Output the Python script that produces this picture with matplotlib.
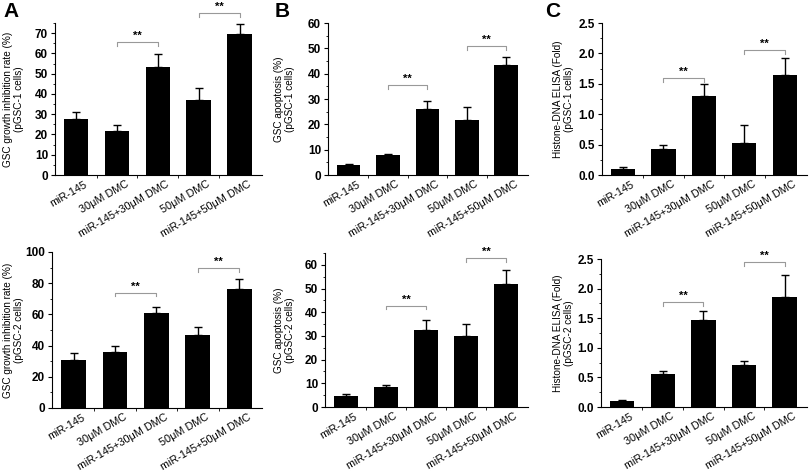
import numpy as np
import matplotlib.pyplot as plt
from matplotlib.ticker import MultipleLocator

plt.rcParams['font.family'] = ['Liberation Sans', 'DejaVu Sans']

groups = ['miR-145', '30μM DMC', 'miR-145+30μM DMC', '50μM DMC', 'miR-145+50μM DMC']

# panel A
a1_mean = [27.5, 21.8, 53.5, 36.8, 69.5]
a1_err = [3.5, 3.0, 6.0, 6.0, 5.0]
a2_mean = [31.0, 36.0, 61.0, 47.0, 76.5]
a2_err = [4.5, 3.5, 3.5, 5.0, 6.0]
# panel B
b1_mean = [3.8, 7.8, 26.2, 21.8, 43.5]
b1_err = [0.5, 0.6, 3.0, 5.0, 3.0]
b2_mean = [4.8, 8.4, 32.3, 29.8, 51.8]
b2_err = [0.6, 0.8, 4.5, 5.3, 6.0]
# panel C
c1_mean = [0.10, 0.43, 1.30, 0.53, 1.64]
c1_err = [0.03, 0.07, 0.20, 0.30, 0.29]
c2_mean = [0.10, 0.55, 1.47, 0.71, 1.86]
c2_err = [0.02, 0.06, 0.16, 0.06, 0.37]

W, H = 810, 476
fig = plt.figure(figsize=(W / 100, H / 100), dpi=100)


def px_axes(l, r, t, b):
    return fig.add_axes([l / W, 1 - b / H, (r - l) / W, (b - t) / H])


def panel(box, mean, err, ymax, major, minor, ylabel, br, fmt=None, ylx=None):
    ax = px_axes(*box)
    x = np.arange(len(groups))
    ax.bar(x, mean, width=0.6, color='black')
    ax.errorbar(x, mean, yerr=[np.zeros(len(err)), err], fmt='none',
                ecolor='black', elinewidth=1, capsize=3, capthick=1)
    ax.set_xlim(-0.52, 4.55)
    ax.set_ylim(0, ymax)
    ax.spines['top'].set_visible(False)
    ax.spines['right'].set_visible(False)
    ax.yaxis.set_major_locator(MultipleLocator(major))
    ax.yaxis.set_minor_locator(MultipleLocator(minor))
    if fmt:
        ax.yaxis.set_major_formatter(fmt)
    ax.set_xticks(x + 0.2)
    ax.set_xticklabels(groups, rotation=30, ha='right', rotation_mode='anchor', fontsize=7.8)
    ax.tick_params(axis='x', length=0, pad=3)
    ax.set_xticks(x[:-1] + 0.5, minor=True)
    ax.tick_params(axis='x', which='minor', length=2, direction='out')
    ax.tick_params(axis='y', which='major', length=3, labelsize=8.5, pad=2)
    ax.tick_params(axis='y', which='minor', length=1.5)
    for lab in ax.get_yticklabels():
        lab.set_fontweight('bold')
    ax.set_ylabel(ylabel, fontsize=7.2, linespacing=1.1)
    if ylx is not None:
        # right edge of the rotated label at a fixed pixel x
        ax.yaxis.set_label_coords((ylx - box[0]) / (box[1] - box[0]), 0.5)
    d = ymax * 0.025
    for (i, j), h in br:
        ax.plot([i, i, j, j], [h - d, h, h, h - d], color='#999999', lw=0.8, clip_on=False)
        ax.text((i + j) / 2, h + d * 0.3, '**', ha='center', va='bottom', fontsize=8, fontweight='bold')
    return ax


panel((55, 262, 23, 175), a1_mean, a1_err, 75, 10, 5,
      'GSC growth inhibition rate (%)\n(pGSC-1 cells)', [((1, 2), 65.5), ((3, 4), 80)], ylx=24)
panel((52, 262, 252, 408), a2_mean, a2_err, 100, 20, 10,
      'GSC growth inhibition rate (%)\n(pGSC-2 cells)', [((1, 2), 74), ((3, 4), 90)], ylx=24)
panel((328, 528, 23, 175), b1_mean, b1_err, 60, 10, 5,
      'GSC apoptosis (%)\n(pGSC-1 cells)', [((1, 2), 35.5), ((3, 4), 51)], ylx=295)
panel((325, 528, 253, 407), b2_mean, b2_err, 65, 10, 5,
      'GSC apoptosis (%)\n(pGSC-2 cells)', [((1, 2), 42.8), ((3, 4), 63)], ylx=295)
panel((602, 807, 23, 175), c1_mean, c1_err, 2.5, 0.5, 0.25,
      'Histone-DNA ELISA (Fold)\n(pGSC-1 cells)', [((1, 2), 1.6), ((3, 4), 2.05)], '{x:.1f}', ylx=574)
panel((601, 807, 259, 407), c2_mean, c2_err, 2.5, 0.5, 0.25,
      'Histone-DNA ELISA (Fold)\n(pGSC-2 cells)', [((1, 2), 1.77), ((3, 4), 2.45)], '{x:.1f}', ylx=574)

for s, xp in [('A', 3), ('B', 275), ('C', 545)]:
    fig.text(xp / W, 1 - 2 / H, s, fontsize=15, fontweight='bold', va='top', ha='left')

fig.savefig('out.png', dpi=100)
